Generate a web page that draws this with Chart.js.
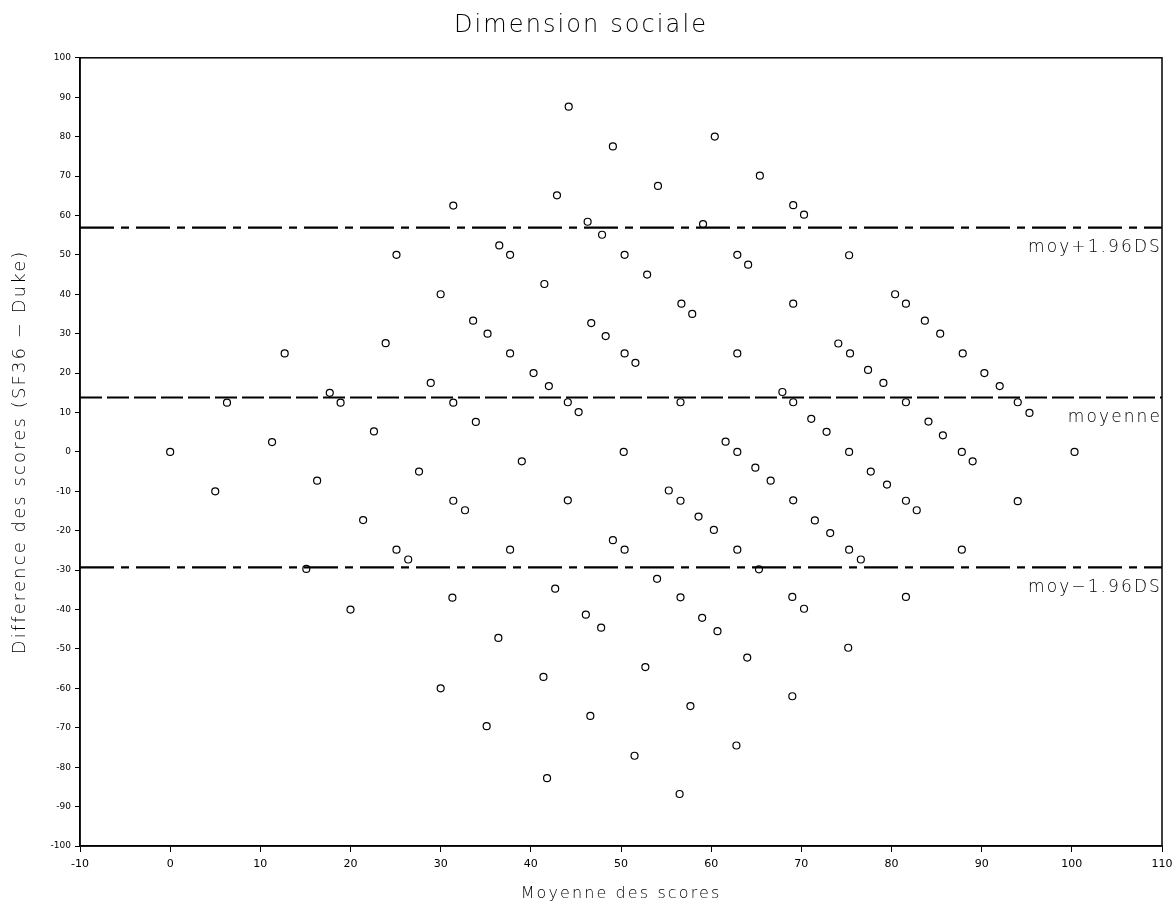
<!DOCTYPE html>
<html>
<head>
<meta charset="utf-8">
<title>Dimension sociale</title>
<script src="https://cdn.jsdelivr.net/npm/chart.js@4"></script>
<style>
    html, body { margin: 0; padding: 0; background: #fff; }
    #wrap { width: 1174px; height: 905px; }
</style>
</head>
<body>
<div id="wrap"><canvas id="baChart"></canvas></div>
<script>
(function () {
    "use strict";

    /* Bland-Altman data */
    const meanScores = [
        0, 5, 6.3, 11.3, 12.7, 15.1, 16.3, 17.7, 18.9, 20,
        21.4, 22.6, 23.9, 25.1, 25.1, 26.4, 27.6, 28.9, 30, 30,
        31.4, 31.4, 31.4, 31.3, 32.7, 33.6, 33.9, 35.2, 35.1, 36.4,
        36.5, 37.7, 37.7, 37.7, 39, 40.3, 41.5, 41.4, 41.8, 42,
        42.7, 42.9, 44.1, 44.1, 44.2, 45.3, 46.1, 46.3, 46.6, 46.7,
        47.8, 47.9, 48.3, 49.1, 49.1, 50.4, 50.4, 50.3, 50.4, 51.5,
        51.6, 52.7, 52.9, 54.1, 54, 55.3, 56.6, 56.6, 56.6, 56.5,
        56.7, 57.7, 57.9, 58.6, 59.1, 59, 60.3, 60.4, 60.7, 61.6,
        62.8, 62.9, 62.9, 62.9, 62.9, 64, 64.1, 64.9, 65.3, 65.4,
        66.6, 67.9, 69.1, 69.1, 69.1, 69.1, 69, 69, 70.3, 70.3,
        71.1, 71.5, 72.8, 73.2, 74.1, 75.3, 75.4, 75.3, 75.3, 75.2,
        76.6, 77.4, 77.7, 79.1, 79.5, 80.4, 81.6, 81.6, 81.6, 81.6,
        82.8, 83.7, 84.1, 85.4, 85.7, 87.9, 87.8, 87.8, 89, 90.3,
        92, 94, 94, 95.3, 100.3
    ];
    const scoreDiffs = [
        0, -10, 12.5, 2.5, 25, -29.7, -7.3, 15, 12.5, -40,
        -17.3, 5.2, 27.6, 50, -24.8, -27.3, -5, 17.5, 40, -60,
        62.5, 12.5, -12.4, -37, -14.8, 33.3, 7.6, 30, -69.6, -47.2,
        52.4, 50, 25, -24.8, -2.4, 20, 42.6, -57.1, -82.8, 16.7,
        -34.7, 65.1, 12.6, -12.3, 87.6, 10.1, -41.3, 58.4, -67, 32.7,
        -44.6, 55.1, 29.4, 77.5, -22.4, 50, 25, 0, -24.8, -77.1,
        22.6, -54.6, 45, 67.5, -32.2, -9.8, 12.6, -12.4, -36.9, -86.8,
        37.6, -64.5, 35, -16.4, 57.8, -42.1, -19.8, 80, -45.5, 2.6,
        -74.5, 50, 25, 0, -24.8, -52.2, 47.5, -4, -29.8, 70.1,
        -7.3, 15.2, 62.6, 37.6, 12.6, -12.3, -36.8, -62, 60.2, -39.8,
        8.4, -17.4, 5.1, -20.6, 27.5, 49.9, 25, 0, -24.8, -49.7,
        -27.3, 20.8, -5, 17.5, -8.3, 40, 37.6, 12.6, -12.4, -36.8,
        -14.8, 33.3, 7.7, 30, 4.2, 25, 0, -24.8, -2.4, 20,
        16.7, 12.6, -12.5, 9.9, 0
    ];

    // reference lines
    const meanDiff = 13.8;
    const upperLoA = 56.9;
    const lowerLoA = -29.3;
    const refLabels = ["moy+1.96DS", "moyenne", "moy\u22121.96DS"];

    // axis ranges / ticks
    const xRange = [-10, 110];
    const yRange = [-100, 100];
    const tickStep = 10;

    const points = meanScores.map(function (m, i) {
        return { x: m, y: scoreDiffs[i] };
    });

    function hLine(v) {
        return [{ x: xRange[0], y: v }, { x: xRange[1], y: v }];
    }

    const ink = "#000";
    const dashDot = [34, 7, 8, 7];
    const wideText = "2.1px";

    /* titles are drawn wide-spaced, tick labels (z:1) are not */
    const spacingPlugin = {
        id: "spacing",
        beforeDraw: function (chart) {
            chart.ctx.letterSpacing = wideText;
        },
        beforeDatasetsDraw: function (chart) {
            chart.ctx.letterSpacing = "0px";
        }
    };

    /* frame round the plot + labels under the reference lines */
    const framePlugin = {
        id: "frameAndLabels",
        afterDraw: function (chart) {
            const ctx = chart.ctx;
            const a = chart.chartArea;
            const ys = chart.scales.y;
            ctx.save();
            ctx.strokeStyle = ink;
            ctx.lineWidth = 1.5;
            ctx.strokeRect(a.left, a.top, a.right - a.left, a.bottom - a.top);

            ctx.letterSpacing = wideText;
            ctx.fillStyle = ink;
            ctx.font = "300 17px 'DejaVu Sans'";
            ctx.textAlign = "right";
            ctx.textBaseline = "middle";
            [upperLoA, meanDiff, lowerLoA].forEach(function (v, i) {
                ctx.fillText(refLabels[i], a.right, ys.getPixelForValue(v) + 20);
            });
            ctx.restore();
        }
    };

    const ctx = document.getElementById("baChart");
    const chart = new Chart(ctx, {
        type: "scatter",
        data: {
            datasets: [
                {
                    label: "points",
                    data: points,
                    pointRadius: 3.5,
                    pointBorderWidth: 1.2,
                    borderColor: ink,
                    backgroundColor: "rgba(255,255,255,0)",
                },
                {
                    type: "line",
                    label: "upper",
                    data: hLine(upperLoA),
                    borderColor: ink,
                    borderWidth: 2.2,
                    borderDash: dashDot,
                    pointRadius: 0,
                },
                {
                    type: "line",
                    label: "mean",
                    data: hLine(meanDiff),
                    borderColor: ink,
                    borderWidth: 2.2,
                    borderDash: [22, 5],
                    pointRadius: 0,
                },
                {
                    type: "line",
                    label: "lower",
                    data: hLine(lowerLoA),
                    borderColor: ink,
                    borderWidth: 2.2,
                    borderDash: dashDot,
                    pointRadius: 0,
                },
            ],
        },
        options: {
            responsive: true,
            maintainAspectRatio: false,
            animation: false,
            layout: { padding: { top: 0, right: 12, bottom: 0, left: 0 } },
            plugins: {
                legend: { display: false },
                tooltip: { enabled: false },
                title: {
                    display: true,
                    text: "Dimension sociale",
                    color: ink,
                    font: { family: "'DejaVu Sans'", size: 24, weight: "300" },
                    padding: { top: 11, bottom: 18 },
                },
            },
            scales: {
                x: {
                    type: "linear",
                    min: xRange[0],
                    max: xRange[1],
                    afterFit: function (s) {
                        s.height = 59;
                        s.paddingRight = 0;
                    },
                    ticks: {
                        stepSize: tickStep,
                        color: ink,
                        padding: 6,
                        z: 1,
                        font: { family: "'DejaVu Sans'", size: 11 },
                        maxRotation: 0,
                    },
                    grid: { drawOnChartArea: false, tickLength: 6, color: ink },
                    border: { color: ink, width: 1.5 },
                    title: {
                        display: true,
                        text: "Moyenne des scores",
                        color: ink,
                        font: { family: "'DejaVu Sans'", size: 16, weight: "300" },
                        padding: { top: 0, bottom: 2 },
                    },
                },
                y: {
                    type: "linear",
                    min: yRange[0],
                    max: yRange[1],
                    afterFit: function (s) { s.width = 80; },
                    ticks: {
                        stepSize: tickStep,
                        color: ink,
                        padding: 4,
                        z: 1,
                        font: { family: "'DejaVu Sans'", size: 9 },
                    },
                    grid: { drawOnChartArea: false, tickLength: 5, color: ink },
                    border: { color: ink, width: 1.5 },
                    title: {
                        display: true,
                        text: "Difference des scores (SF36 \u2212 Duke)",
                        color: ink,
                        font: { family: "'DejaVu Sans'", size: 18, weight: "300" },
                        padding: { top: 10, bottom: 0 },
                    },
                },
            },
        },
        plugins: [spacingPlugin, framePlugin],
    });
})();
</script>
</body>
</html>
